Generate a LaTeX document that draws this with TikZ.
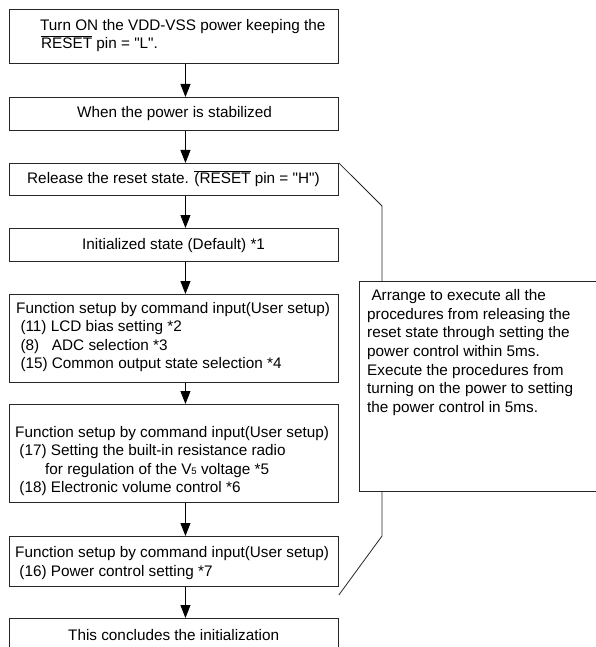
\documentclass[tikz,border=0pt]{standalone}
\usepackage{fontspec}
\usetikzlibrary{arrows.meta}
\newfontfamily\arial{Liberation Sans}
\newcommand\ovl[1]{$\overline{\hbox{#1}}$}
\newcommand\lines[1]{\parbox[t]{330pt}{\raggedright #1}}
\tikzset{
  box/.style={draw=black!85, line width=0.9pt, anchor=north west, inner sep=0pt},
  txt/.style={anchor=base west, inner sep=0pt, font=\arial\fontsize{15.3}{18.6}\selectfont},
  flow/.style={draw=black, line width=0.9pt, -{Triangle[width=10pt,length=13pt]}},
  link/.style={draw=black!85, line width=0.8pt}
}
\begin{document}
\begin{tikzpicture}[x=1pt,y=-1pt]
\useasboundingbox (0,0) rectangle (596,647);
\clip (0,0) rectangle (596,647);
\fill[white] (0,0) rectangle (596,647);
% flow boxes
\node[box, minimum width=329pt, minimum height=54pt] (b1) at (9,9) {};
\node[box, minimum width=329pt, minimum height=33pt] (b2) at (9,97) {};
\node[box, minimum width=329pt, minimum height=32pt] (b3) at (9,163) {};
\node[box, minimum width=329pt, minimum height=33pt] (b4) at (9,228) {};
\node[box, minimum width=329pt, minimum height=88pt] (b5) at (9,294) {};
\node[box, minimum width=329pt, minimum height=98pt] (b6) at (9,404) {};
\node[box, minimum width=329pt, minimum height=50pt] (b7) at (9,536) {};
\node[box, minimum width=329pt, minimum height=50pt] (b8) at (9,618) {};
% timing note on the right
\node[box, minimum width=270pt, minimum height=210pt] (note) at (359,281) {};

% texts
\node[txt] (t1) at (40,30.5) {\lines{Turn ON the VDD-VSS power keeping the\\[-0.6pt]\hspace*{1pt}\ovl{RESET} pin = "L".}};
\node[txt] (t2) at (77,118) {When the power is stabilized};
\node[txt] (t3) at (27,183.5) {Release the reset state. \ovl{(RESET} pin = "H")};
\node[txt] (t4) at (82,249.5) {Initialized state (Default) *1};
\node[txt] (t5) at (16,313) {\lines{Function setup by command input(User setup)\\
\hspace*{4.3pt}(11) LCD bias setting *2\\
\hspace*{4.3pt}\makebox[31.5pt][l]{(8)}ADC selection *3\\
\hspace*{4.3pt}(15) Common output state selection *4}};
\node[txt] (t6) at (15,437) {\lines{Function setup by command input(User setup)\\
\hspace*{4.3pt}(17) Setting the built-in resistance radio\\
\hspace*{30pt}for regulation of the V{\fontsize{9.5}{9.5}\selectfont 5} voltage *5\\
\hspace*{4.3pt}(18) Electronic volume control *6}};
\node[txt] (t7) at (15,557.5) {\lines{Function setup by command input(User setup)\\
\hspace*{4.3pt}(16) Power control setting *7}};
\node[txt] (t8) at (68,640) {This concludes the initialization};
\node[txt] (tn) at (367,300.7) {\lines{\hspace*{4.3pt}Arrange to execute all the\\
procedures from releasing the\\
reset state through setting the\\
power control within 5ms.\\
Execute the procedures from\\
turning on the power to setting\\
the power control in 5ms.}};

% flow arrows
\foreach \a/\b in {b1/b2,b2/b3,b3/b4,b4/b5,b5/b6,b6/b7,b7/b8}
  \draw[flow] ([xshift=11.5pt]\a.south) -- ([xshift=11.5pt]\b.north);

% brackets tying the note to the reset release and power control steps
\coordinate (k1) at (382,206);
\coordinate (k2) at (382,536);
\draw[link] (b3.north east) -- (k1) -- (k1 |- note.north);
\draw[link] (k2 |- note.south) -- (k2) -- ([yshift=-8pt]b7.south east);
\end{tikzpicture}
\end{document}
